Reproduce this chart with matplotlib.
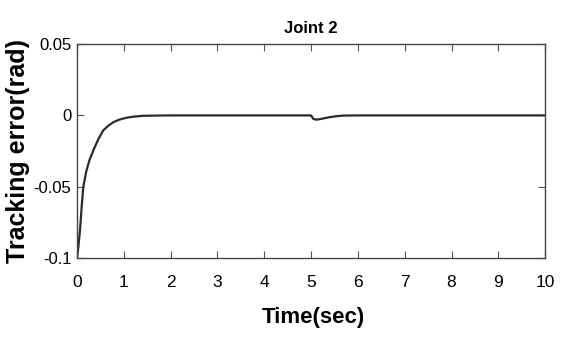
import matplotlib
matplotlib.use('Agg')
import matplotlib.pyplot as plt

# tracking error of joint 2
time_s = [0, 0.03, 0.064, 0.1, 0.135, 0.2, 0.27, 0.35, 0.45, 0.56, 0.67, 0.78,
          0.9, 1.06, 1.2, 1.4, 1.7, 2.0, 3.0, 4.0, 5.0, 5.05, 5.12, 5.25, 5.4,
          5.55, 5.7, 6.0, 7.0, 8.0, 9.0, 10.0]
error_rad = [-0.1, -0.092, -0.0806, -0.064, -0.050, -0.039, -0.031, -0.0245,
             -0.017, -0.0105, -0.0072, -0.0047, -0.003, -0.0016, -0.0009,
             -0.0003, -0.0001, 0, 0, 0, 0, -0.0025, -0.003, -0.0022, -0.0012,
             -0.0005, -0.0001, 0, 0, 0, 0, 0]

x_ticks = list(range(0, 11))
y_ticks = [-0.1, -0.05, 0, 0.05]
y_tick_labels = ['-0.1', '-0.05', '0', '0.05']

font = 'Liberation Sans'


def main():
    fig = plt.figure(figsize=(5.62, 3.42), dpi=100)
    ax = fig.add_axes([0.137, 0.2456, 0.833, 0.6254])
    ax.plot(time_s, error_rad, color='#2a2a2a', lw=1.6)
    ax.set_xlim(0, 10)
    ax.set_ylim(-0.1, 0.05)
    ax.set_xticks(x_ticks)
    ax.set_yticks(y_ticks)
    ax.set_xticklabels([str(v) for v in x_ticks], family=font, fontsize=12.5)
    ax.set_yticklabels(y_tick_labels, family=font, fontsize=12)
    ax.tick_params(direction='in', top=True, right=True, length=5,
                   width=0.8, colors='#555555', labelcolor='black')
    ax.tick_params(axis='x', pad=12)
    ax.tick_params(axis='y', pad=4)
    for s in ax.spines.values():
        s.set_color('#444444')
        s.set_linewidth(1.0)
    ax.set_title('Joint 2', family=font, fontweight='bold', fontsize=12, pad=8)
    ax.set_xlabel('Time(sec)', family=font, fontweight='bold', fontsize=16)
    ax.xaxis.set_label_coords(0.504, -0.23)
    ax.set_ylabel('Tracking error(rad)', family=font,
                  fontweight='bold', fontsize=18)
    ax.yaxis.set_label_coords(-0.1, 0.5)
    fig.savefig('out.png', dpi=100)


if __name__ == '__main__':
    main()
